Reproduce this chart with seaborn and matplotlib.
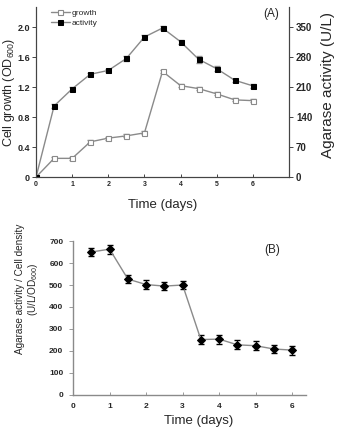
import numpy as np
import pandas as pd
import seaborn as sns
import matplotlib.pyplot as plt

# panel A data
days = [0, 0.5, 1, 1.5, 2, 2.5, 3, 3.5, 4, 4.5, 5, 5.5, 6]
growth = [0, 0.25, 0.25, 0.47, 0.52, 0.55, 0.59, 1.41, 1.22, 1.18, 1.11, 1.03, 1.02]
growth_err = [0, 0.02, 0.02, 0.02, 0.02, 0.02, 0.02, 0.02, 0.02, 0.02, 0.02, 0.02, 0.02]
activity = [0, 166, 206, 240, 249, 277, 327, 348, 316, 275, 253, 226, 213]
activity_err = [0, 5, 5, 4, 4, 6, 4, 4, 5, 8, 6, 4, 4]

# panel B data
days_b = [0.5, 1, 1.5, 2, 2.5, 3, 3.5, 4, 4.5, 5, 5.5, 6]
ratio = [650, 663, 527, 502, 495, 500, 252, 254, 228, 224, 209, 204]
ratio_err = [20, 20, 20, 20, 20, 20, 20, 20, 20, 20, 20, 20]

sns.set_style("ticks")
plt.rcParams['font.family'] = ['Liberation Sans', 'DejaVu Sans']
plt.rcParams['mathtext.fontset'] = 'custom'
plt.rcParams['mathtext.rm'] = 'Liberation Sans'

df_a = pd.DataFrame({'day': days, 'growth': growth, 'activity': activity})
df_b = pd.DataFrame({'day': days_b, 'ratio': ratio})

fig = plt.figure(figsize=(3.4, 4.33), dpi=100)
ax = fig.add_axes([0.106, 0.591, 0.744, 0.393])
ax2 = ax.twinx()

line_col = '#8a8a8a'

ax.errorbar(days, growth, yerr=growth_err, fmt='none', ecolor=line_col, elinewidth=0.6, capsize=2)
sns.lineplot(data=df_a, x='day', y='growth', ax=ax, color=line_col, lw=1,
             marker='s', markersize=3.6, markerfacecolor='white', markeredgecolor=line_col,
             markeredgewidth=0.8, label='growth', legend=False)
ax2.errorbar(days, activity, yerr=activity_err, fmt='none', ecolor=line_col, elinewidth=0.6, capsize=2)
sns.lineplot(data=df_a, x='day', y='activity', ax=ax2, color=line_col, lw=1,
             marker='s', markersize=3.6, markerfacecolor='black', markeredgecolor='black',
             label='activity', legend=False)

ax.set_xlim(0, 7)
ax.set_ylim(0, 2.27)
ax2.set_ylim(0, 2.27 * 175)
ax.set_xticks(range(7))
ax.set_yticks([0, 0.4, 0.8, 1.2, 1.6, 2.0])
ax.set_yticklabels(['0', '0.4', '0.8', '1.2', '1.6', '2.0'], fontsize=6.5, fontweight='bold')
ax.set_xticklabels([str(i) for i in range(7)], fontsize=5, fontweight='bold')
ax2.set_yticks([0, 70, 140, 210, 280, 350])
ax2.set_yticklabels(['0', '70', '140', '210', '280', '350'], fontsize=7, fontweight='bold')
ax.tick_params(axis='y', length=3, width=0.6, pad=1.5)
ax.tick_params(axis='x', direction='in', length=2, width=0.6, pad=3)
ax2.tick_params(axis='y', length=3, width=0.6, pad=2)
for a in (ax, ax2):
    a.spines['top'].set_visible(False)
    for s in a.spines.values():
        s.set_linewidth(0.8)
        s.set_color('#444444')
ax.set_xlabel('Time (days)', fontsize=9.5, labelpad=8)
ax.set_ylabel(r'Cell growth (OD$_{600}$)', fontsize=9)
ax.yaxis.set_label_coords(-0.076, 0.5)
ax2.set_ylabel('Agarase activity (U/L)', fontsize=11)
ax2.yaxis.set_label_coords(1.125, 0.54)
ax.text(0.93, 0.94, '(A)', transform=ax.transAxes, fontsize=8.5, ha='center')

h1, l1 = ax.get_legend_handles_labels()
h2, l2 = ax2.get_legend_handles_labels()
ax.legend(h1 + h2, l1 + l2, loc='upper left', bbox_to_anchor=(0.06, 0.985), frameon=False,
          fontsize=6, handlelength=2.2, handletextpad=0.2, labelspacing=0.25,
          borderpad=0, borderaxespad=0)

# panel B
bx = fig.add_axes([0.215, 0.0878, 0.685, 0.3556])
bx.errorbar(days_b, ratio, yerr=ratio_err, fmt='none', ecolor='black', elinewidth=0.6, capsize=2.5)
sns.lineplot(data=df_b, x='day', y='ratio', ax=bx, color=line_col, lw=1,
             marker='D', markersize=4, markerfacecolor='black', markeredgecolor='black')
bx.set_xlim(0, 6.38)
bx.set_ylim(0, 700)
bx.set_xticks(range(7))
bx.set_xticklabels([str(i) for i in range(7)], fontsize=6, fontweight='bold')
bx.set_yticks(range(0, 701, 100))
bx.set_yticklabels([str(v) for v in range(0, 701, 100)], fontsize=6, fontweight='bold')
bx.tick_params(axis='y', length=3, width=0.6, pad=4, color=line_col)
bx.tick_params(axis='x', direction='in', length=2, width=0.6, pad=6, color=line_col)
for side in ('top', 'right'):
    bx.spines[side].set_visible(False)
for side in ('left', 'bottom'):
    bx.spines[side].set_color(line_col)
    bx.spines[side].set_linewidth(1)
bx.set_xlabel('Time (days)', fontsize=9.5)
bx.xaxis.set_label_coords(0.54, -0.13)
bx.set_ylabel('Agarase activity / Cell density\n' + r'(U/L/OD$_{600}$)', fontsize=7.2, linespacing=1.1)
bx.yaxis.set_label_coords(-0.14, 0.69)
bx.text(0.855, 0.92, '(B)', transform=bx.transAxes, fontsize=8.5, ha='center')

fig.savefig('out.png', dpi=100)
